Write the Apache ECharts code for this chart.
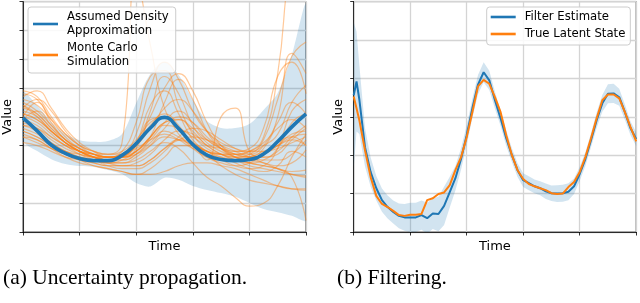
<!DOCTYPE html>
<html>
<head>
<meta charset="utf-8">
<script src="https://cdn.jsdelivr.net/npm/echarts/dist/echarts.min.js"></script>
<style>
html,body{margin:0;padding:0;background:#fff;}
#chart{width:640px;height:303px;}
</style>
</head>
<body>
<div id="chart"></div>
<script>
// ---------- Panel (a): uncertainty propagation ----------
const tLeft = [0, 0.25, 0.5, 0.75, 1, 1.25, 1.5, 1.75, 2, 2.25, 2.5, 2.75, 3, 3.25, 3.5, 3.75, 4, 4.25, 4.5, 4.75, 5];
const adaMean  = [3.96, 3.51, 3.02, 2.73, 2.55, 2.48, 2.48, 2.66, 3.07, 3.61, 3.98, 3.59, 3.04, 2.67, 2.52, 2.48, 2.52, 2.71, 3.14, 3.65, 4.10];
const adaUpper = [4.86, 4.38, 3.82, 3.40, 3.19, 3.13, 3.16, 3.40, 4.48, 5.49, 5.90, 5.45, 4.58, 3.85, 3.61, 3.61, 3.75, 4.24, 4.83, 6.15, 7.88];
const adaLower = [3.19, 2.81, 2.53, 2.36, 2.29, 2.26, 2.15, 2.01, 1.70, 1.58, 1.88, 1.81, 1.60, 1.46, 1.35, 1.22, 1.01, 0.80, 0.69, 0.56, 0.42];
const monteCarloRuns = [
  [4.9, 4.7, 4.0, 3.4, 3.0, 2.8, 2.7, 2.8, 3.2, 3.8, 4.0, 3.6, 3.1, 2.8, 2.7, 2.7, 2.8, 3.1, 3.6, 3.9, 3.6],
  [3.8, 3.6, 3.2, 2.9, 2.7, 2.6, 2.5, 2.6, 3.0, 3.7, 4.1, 3.7, 3.0, 2.6, 2.4, 2.3, 2.4, 2.7, 3.1, 3.3, 3.0],
  [4.7, 4.9, 4.3, 3.6, 3.1, 2.8, 2.6, 2.6, 2.8, 3.3, 3.7, 3.6, 3.3, 3.0, 2.9, 2.8, 2.8, 3.0, 3.4, 4.5, 5.1],
  [3.4, 3.2, 2.9, 2.6, 2.4, 2.3, 2.2, 2.1, 2.0, 2.2, 2.6, 3.0, 3.0, 2.7, 2.3, 2.0, 1.8, 1.7, 1.6, 1.5, 1.45],
  [4.1, 3.9, 3.5, 3.1, 2.8, 2.6, 2.6, 2.8, 3.8, 5.4, 5.6, 4.4, 3.4, 2.9, 2.7, 2.6, 2.7, 3.2, 4.6, 6.1, 6.6],
  [3.6, 3.4, 3.1, 2.8, 2.7, 2.6, 2.6, 2.7, 2.9, 3.2, 3.4, 3.2, 2.9, 2.7, 2.6, 2.5, 2.4, 2.3, 2.2, 2.1, 2.15],
  [4.3, 4.1, 3.6, 3.2, 2.9, 2.7, 2.5, 2.5, 2.7, 3.3, 4.5, 5.3, 4.6, 3.5, 2.9, 2.6, 2.5, 2.7, 3.0, 3.4, 3.5],
  [4.0, 4.5, 3.8, 3.2, 2.9, 2.7, 2.7, 3.1, 8.8, 6.5, 4.3, 3.6, 3.1, 2.8, 2.7, 2.6, 2.6, 2.8, 3.0, 3.2, 3.0],
  [3.3, 3.1, 2.9, 2.7, 2.6, 2.5, 2.4, 2.5, 2.8, 3.3, 3.8, 3.9, 3.5, 3.0, 2.7, 2.5, 2.4, 2.5, 2.9, 3.8, 4.1],
  [4.5, 4.2, 3.7, 3.2, 2.9, 2.7, 2.6, 2.6, 2.9, 4.2, 5.4, 4.8, 3.7, 3.1, 2.8, 2.6, 2.5, 2.4, 2.3, 2.4, 2.85],
  [3.9, 3.7, 3.3, 3.0, 2.8, 2.6, 2.4, 2.3, 2.3, 2.5, 2.9, 3.2, 3.3, 3.2, 3.0, 2.8, 2.6, 2.4, 2.2, 2.0, 1.9],
  [4.4, 4.0, 3.5, 3.1, 2.8, 2.7, 2.6, 2.6, 2.7, 3.0, 3.3, 3.2, 3.0, 2.5, 4.0, 4.3, 2.8, 2.6, 2.7, 3.2, 3.6],
  [3.7, 3.5, 3.1, 2.8, 2.6, 2.5, 2.4, 2.4, 2.5, 2.8, 3.1, 2.9, 2.4, 1.9, 1.6, 1.2, 0.9, 1.0, 1.6, 2.6, 3.4],
  [4.2, 4.0, 3.5, 3.1, 2.8, 2.6, 2.5, 2.5, 2.7, 3.1, 3.5, 3.3, 3.0, 2.8, 2.7, 2.7, 2.8, 3.3, 5.5, 9.5, 10.5],
  [3.5, 3.3, 3.0, 2.8, 2.6, 2.5, 2.4, 2.4, 2.6, 3.0, 3.6, 4.0, 3.8, 3.3, 2.9, 2.6, 2.4, 2.3, 2.2, 1.9, 0.4],
  [4.6, 4.4, 3.9, 3.4, 3.0, 2.8, 2.7, 2.7, 3.0, 3.6, 4.3, 4.6, 4.2, 3.5, 3.0, 2.8, 2.9, 3.6, 5.4, 5.9, 4.8],
  [3.1, 3.0, 2.8, 2.6, 2.5, 2.4, 2.3, 2.3, 2.4, 2.7, 3.2, 3.5, 3.4, 3.0, 2.7, 2.5, 2.3, 2.2, 2.1, 2.0, 1.95],
  [4.0, 3.8, 3.4, 3.0, 2.8, 2.7, 2.6, 2.7, 3.4, 5.0, 5.9, 5.3, 4.2, 3.5, 3.1, 2.9, 2.8, 2.8, 2.9, 3.1, 3.3],
  [3.7, 3.6, 3.3, 3.0, 2.7, 2.5, 2.3, 2.2, 2.2, 2.4, 2.8, 3.3, 3.6, 3.5, 3.2, 2.9, 2.7, 2.6, 2.8, 3.3, 3.7],
  [4.3, 4.6, 4.2, 3.5, 3.0, 2.7, 2.6, 2.7, 3.1, 3.9, 4.0, 3.4, 2.9, 2.6, 2.5, 2.5, 2.6, 2.9, 4.0, 6.2, 5.5],
  [3.5, 3.3, 3.0, 2.7, 2.5, 2.3, 2.2, 2.1, 2.0, 2.0, 2.1, 2.3, 2.4, 2.4, 2.3, 2.2, 2.0, 1.8, 1.6, 1.5, 1.5],
  [4.1, 3.9, 3.5, 3.1, 2.8, 2.6, 2.5, 2.6, 2.8, 3.2, 3.8, 4.2, 3.8, 3.2, 2.9, 2.7, 2.7, 3.0, 3.8, 4.5, 4.1],
  [3.9, 4.2, 3.7, 3.2, 2.8, 2.6, 2.5, 2.6, 3.1, 4.4, 4.9, 4.1, 3.2, 2.8, 2.6, 2.4, 2.2, 2.1, 2.3, 2.8, 2.6],
  [4.4, 4.1, 3.6, 3.1, 2.8, 2.6, 2.5, 2.6, 3.0, 4.0, 5.0, 5.5, 4.9, 3.8, 3.0, 2.7, 2.6, 2.7, 3.0, 3.3, 3.4],
  [3.3, 3.2, 2.9, 2.7, 2.5, 2.4, 2.3, 2.3, 2.3, 2.5, 2.9, 3.2, 3.1, 2.8, 2.5, 2.3, 2.2, 2.3, 2.9, 4.2, 4.6],
  [4.8, 4.6, 3.9, 3.3, 2.9, 2.7, 2.6, 2.6, 2.8, 3.3, 3.8, 3.9, 3.6, 3.2, 2.9, 2.7, 2.6, 2.5, 2.5, 2.7, 3.2]
];

// ---------- Panel (b): filtering ----------
const tRight = [0, 0.05, 0.1, 0.2, 0.3, 0.4, 0.5, 0.6, 0.7, 0.8, 0.9, 1.0, 1.1, 1.2, 1.3, 1.4, 1.5, 1.6, 1.7, 1.8, 1.9,
  2.0, 2.1, 2.2, 2.3, 2.4, 2.5, 2.6, 2.7, 2.8, 2.9, 3.0, 3.1, 3.2, 3.3, 3.4, 3.5, 3.6, 3.7, 3.8, 3.9,
  4.0, 4.1, 4.2, 4.3, 4.4, 4.5, 4.6, 4.7, 4.8, 4.9, 5.0];
const filterEstimate = [3.56, 3.92, 3.45, 2.21, 1.56, 1.14, 0.83, 0.65, 0.52, 0.42, 0.38, 0.38, 0.38, 0.44, 0.36, 0.48, 0.47, 0.68, 1.04, 1.40, 1.90,
  2.52, 3.22, 3.84, 4.16, 3.95, 3.43, 2.96, 2.44, 2.00, 1.61, 1.35, 1.27, 1.19, 1.14, 1.06, 1.01, 1.00, 1.01, 1.05, 1.19,
  1.51, 1.90, 2.39, 2.91, 3.35, 3.60, 3.61, 3.51, 3.12, 2.70, 2.42];
const trueLatentState = [3.53, 3.22, 2.91, 2.13, 1.43, 0.94, 0.73, 0.65, 0.55, 0.44, 0.42, 0.45, 0.45, 0.47, 0.83, 0.88, 0.99, 1.03, 1.22, 1.61, 1.95,
  2.47, 3.12, 3.79, 3.96, 3.86, 3.51, 3.12, 2.52, 2.00, 1.61, 1.38, 1.25, 1.19, 1.14, 1.09, 1.01, 0.99, 1.00, 1.17, 1.30,
  1.56, 1.95, 2.44, 2.96, 3.43, 3.58, 3.58, 3.48, 3.12, 2.73, 2.36];
const filterBandHalfWidth = [1.9, 1.3, 0.9, 0.5, 0.38, 0.32, 0.3, 0.3, 0.3, 0.32, 0.35, 0.38, 0.38, 0.38, 0.4, 0.4, 0.45, 0.5, 0.4, 0.32, 0.28,
  0.26, 0.25, 0.25, 0.26, 0.25, 0.22, 0.2, 0.2, 0.18, 0.18, 0.18, 0.18, 0.18, 0.18, 0.2, 0.2, 0.22, 0.22, 0.22, 0.2,
  0.18, 0.18, 0.18, 0.2, 0.22, 0.25, 0.25, 0.22, 0.2, 0.18, 0.18];

const captionA = '(a) Uncertainty propagation.';
const captionB = '(b) Filtering.';

// ---------- build ----------
const pair = (ts, vs) => ts.map((t, i) => [t, vs[i]]);
const BLUE = '#1f77b4', ORANGE = '#ff7f0e';
const FONT = 'DejaVu Sans';
const BAND = 'rgba(31,119,180,0.2)';

function makeX(gi) {
  return {
    gridIndex: gi, type: 'value', min: 0, max: 5, interval: 1,
    axisLabel: { show: false },
    axisTick: { show: true, length: 3.5, lineStyle: { color: '#000', width: 0.8 } },
    axisLine: { show: true, lineStyle: { color: '#000', width: 0.8 } },
    splitLine: { show: true, lineStyle: { color: '#d4d4d4', width: 1.3 } },
    name: 'Time', nameLocation: 'middle', nameGap: 8,
    nameTextStyle: { fontFamily: FONT, fontSize: 13, color: '#000' }
  };
}
function makeY(gi, max) {
  return {
    gridIndex: gi, type: 'value', min: 0, max: max, interval: 1,
    axisLabel: { show: false },
    axisTick: { show: true, length: 3.5, lineStyle: { color: '#000', width: 0.8 } },
    axisLine: { show: true, lineStyle: { color: '#000', width: 0.8 } },
    splitLine: { show: true, lineStyle: { color: '#d4d4d4', width: 1.3 } },
    name: 'Value', nameLocation: 'middle', nameRotate: 90, nameGap: 9,
    nameTextStyle: { fontFamily: FONT, fontSize: 13, color: '#000' }
  };
}

// band drawn as one polygon through the axes' own coordinate mapping
function bandSeries(gi, ts, upper, lower, smooth) {
  return {
    type: 'custom', xAxisIndex: gi, yAxisIndex: gi, silent: true, clip: true, z: 1,
    data: [[ts[0], lower[0]]],
    renderItem: function (params, api) {
      const pts = [];
      for (let i = 0; i < ts.length; i++) pts.push(api.coord([ts[i], upper[i]]));
      for (let i = ts.length - 1; i >= 0; i--) pts.push(api.coord([ts[i], lower[i]]));
      return { type: 'polygon', shape: { points: pts, smooth: smooth }, style: { fill: BAND } };
    }
  };
}

const series = [];
series.push(bandSeries(0, tLeft, adaUpper, adaLower, 0.3));
monteCarloRuns.forEach(run => {
  series.push({
    type: 'line', name: 'Monte Carlo Simulation', xAxisIndex: 0, yAxisIndex: 0,
    smooth: true, symbol: 'none', silent: true,
    itemStyle: { color: ORANGE },
    lineStyle: { color: ORANGE, width: 1.2, opacity: 0.42 },
    data: pair(tLeft, run), z: 2
  });
});
series.push({
  type: 'line', name: 'Assumed Density Approximation', xAxisIndex: 0, yAxisIndex: 0,
  smooth: true, symbol: 'none', itemStyle: { color: BLUE },
  lineStyle: { color: BLUE, width: 3.6 }, data: pair(tLeft, adaMean), z: 3
});
series.push(bandSeries(1, tRight,
  filterEstimate.map((v, i) => v + filterBandHalfWidth[i]),
  filterEstimate.map((v, i) => v - filterBandHalfWidth[i]), 0));
series.push({
  type: 'line', name: 'Filter Estimate', xAxisIndex: 1, yAxisIndex: 1, symbol: 'none',
  itemStyle: { color: BLUE }, lineStyle: { color: BLUE, width: 2 }, data: pair(tRight, filterEstimate), z: 2
});
series.push({
  type: 'line', name: 'True Latent State', xAxisIndex: 1, yAxisIndex: 1, symbol: 'none',
  itemStyle: { color: ORANGE }, lineStyle: { color: ORANGE, width: 2 }, data: pair(tRight, trueLatentState), z: 3
});

const legendCommon = {
  orient: 'vertical', itemWidth: 25, itemHeight: 2.6, itemGap: 3,
  backgroundColor: 'rgba(255,255,255,0.85)', borderColor: '#cccccc', borderWidth: 1, borderRadius: 3,
  selectedMode: false,
  textStyle: { fontFamily: FONT, fontSize: 11.7, color: '#000', lineHeight: 14, padding: [0, 0, 0, 4] }
};

const chart = echarts.init(document.getElementById('chart'), null, { renderer: 'canvas' });
chart.setOption({
  animation: false,
  backgroundColor: '#fff',
  title: [
    { text: captionA, left: 3, top: 267, padding: 0,
      textStyle: { fontFamily: 'Liberation Serif', fontSize: 21.5, fontWeight: 'normal', color: '#000' } },
    { text: captionB, left: 337, top: 267, padding: 0,
      textStyle: { fontFamily: 'Liberation Serif', fontSize: 21.5, fontWeight: 'normal', color: '#000' } }
  ],
  grid: [
    { left: 22.7, top: 1.6, width: 283.3, height: 230.4, show: true, borderColor: '#000', borderWidth: 0.8 },
    { left: 353.7, top: 1.6, width: 282.5, height: 230.4, show: true, borderColor: '#000', borderWidth: 0.8 }
  ],
  xAxis: [makeX(0), makeX(1)],
  yAxis: [makeY(0, 8), makeY(1, 6)],
  legend: [
    Object.assign({}, legendCommon, {
      left: 28, top: 7, padding: [3, 7, 4, 5],
      data: [
        { name: 'Assumed Density Approximation', icon: 'rect', itemStyle: { color: BLUE, opacity: 1 } },
        { name: 'Monte Carlo Simulation', icon: 'rect', itemStyle: { color: ORANGE, opacity: 1 } }
      ],
      formatter: n => n === 'Assumed Density Approximation' ? 'Assumed Density\nApproximation' : 'Monte Carlo\nSimulation'
    }),
    Object.assign({}, legendCommon, {
      left: 486.7, top: 7, padding: [3, 5, 4, 4],
      data: [
        { name: 'Filter Estimate', icon: 'rect', itemStyle: { color: BLUE, opacity: 1 } },
        { name: 'True Latent State', icon: 'rect', itemStyle: { color: ORANGE, opacity: 1 } }
      ]
    })
  ],
  series: series
});
</script>
</body>
</html>
